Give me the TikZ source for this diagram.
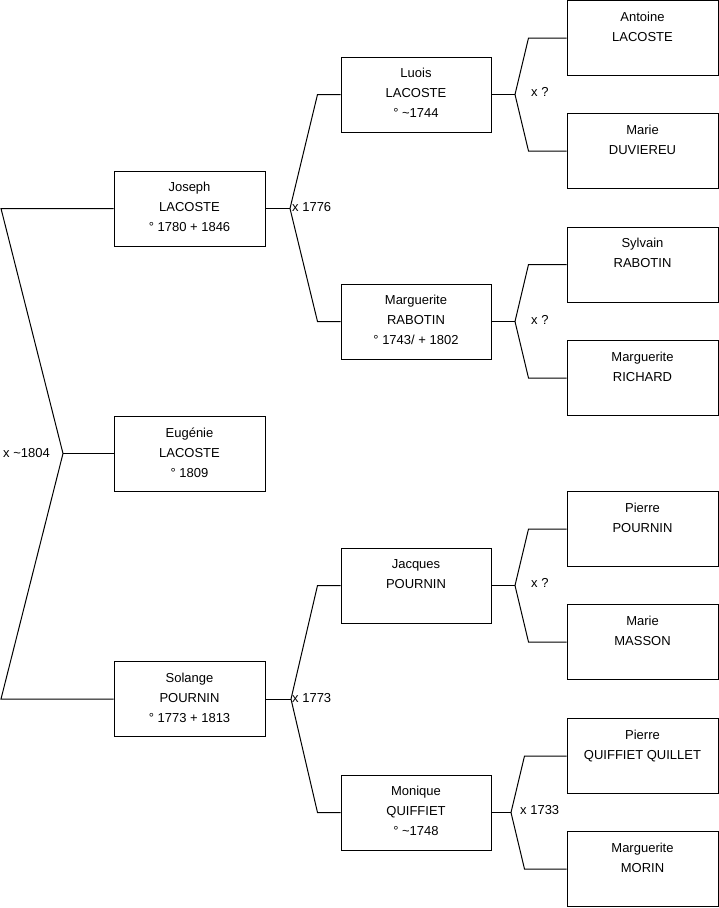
\documentclass[tikz,border=0pt]{standalone}
\usepackage{fontspec}
\setmainfont{Liberation Sans}
\newcommand\lastln{\rule[-2.5pt]{0pt}{0pt}}
\tikzset{
  box/.style={draw=black, line width=1pt, minimum width=151pt, minimum height=75pt, inner sep=0pt, align=center,
    font=\fontsize{13}{20}\selectfont},
  lnk/.style={draw=black, line width=1pt},
  lbl/.style={anchor=west, inner sep=0pt, font=\fontsize{13}{16}\selectfont}
}
\begin{document}
\begin{tikzpicture}[x=1pt,y=-1pt]
\useasboundingbox (0,0) rectangle (719,908);
% column 1
\node[box] (joseph)  at (189.5,208.5) {Joseph\\LACOSTE\\° 1780 + 1846\lastln};
\node[box] (eugenie) at (189.5,453.5) {Eugénie\\LACOSTE\\° 1809\lastln};
\node[box] (solange) at (189.5,699)   {Solange\\POURNIN\\° 1773 + 1813\lastln};
% column 2
\node[box, minimum width=150pt] (luois)   at (416,94.5)  {Luois\\LACOSTE\\° \textasciitilde1744\lastln};
\node[box, minimum width=150pt] (margr)   at (416,321.5) {Marguerite\\RABOTIN\\° 1743/ + 1802\lastln};
\node[box, minimum width=150pt] (jacques) at (416,585.5) {Jacques\\POURNIN\\\mbox{}\lastln};
\node[box, minimum width=150pt] (monique) at (416,812.5) {Monique\\QUIFFIET\\° \textasciitilde1748\lastln};
% column 3
\node[box] (antoine) at (642.5,38)    {Antoine\\LACOSTE\\\mbox{}\lastln};
\node[box] (marie)   at (642.5,151)   {Marie\\DUVIEREU\\\mbox{}\lastln};
\node[box] (sylvain) at (642.5,264.5) {Sylvain\\RABOTIN\\\mbox{}\lastln};
\node[box] (richard) at (642.5,378)   {Marguerite\\RICHARD\\\mbox{}\lastln};
\node[box] (pierre)  at (642.5,529)   {Pierre\\POURNIN\\\mbox{}\lastln};
\node[box] (masson)  at (642.5,642)   {Marie\\MASSON\\\mbox{}\lastln};
\node[box] (pierreq) at (642.5,756)   {Pierre\\QUIFFIET QUILLET\\\mbox{}\lastln};
\node[box] (morin)   at (642.5,869)   {Marguerite\\MORIN\\\mbox{}\lastln};
% fork points
\coordinate (f0) at (63,453.5);
\coordinate (r1) at (1,208.5);
\coordinate (r2) at (1,699);
\coordinate (f1) at (290,208.5);
\coordinate (f3) at (291,699);
\coordinate (f21) at (515,94.5);
\coordinate (f22) at (515,321.5);
\coordinate (f23) at (515,585.5);
\coordinate (f24) at (511,812.5);
% connectors
\draw[lnk] (joseph.west) -- (r1) -- (f0) -- (r2) -- (solange.west);
\draw[lnk] (f0) -- (eugenie.west);
\draw[lnk] (joseph.east) -- (f1);
\draw[lnk] (f1) -- ([xshift=-23pt]luois.west) -- (luois.west);
\draw[lnk] (f1) -- ([xshift=-23pt]margr.west) -- (margr.west);
\draw[lnk] (solange.east) -- (f3);
\draw[lnk] (f3) -- ([xshift=-23pt]jacques.west) -- (jacques.west);
\draw[lnk] (f3) -- ([xshift=-23pt]monique.west) -- (monique.west);
\draw[lnk] (luois.east) -- (f21);
\draw[lnk] (f21) -- ([xshift=-38pt]antoine.west) -- (antoine.west);
\draw[lnk] (f21) -- ([xshift=-38pt]marie.west) -- (marie.west);
\draw[lnk] (margr.east) -- (f22);
\draw[lnk] (f22) -- ([xshift=-38pt]sylvain.west) -- (sylvain.west);
\draw[lnk] (f22) -- ([xshift=-38pt]richard.west) -- (richard.west);
\draw[lnk] (jacques.east) -- (f23);
\draw[lnk] (f23) -- ([xshift=-38pt]pierre.west) -- (pierre.west);
\draw[lnk] (f23) -- ([xshift=-38pt]masson.west) -- (masson.west);
\draw[lnk] (monique.east) -- (f24);
\draw[lnk] (f24) -- ([xshift=-42pt]pierreq.west) -- (pierreq.west);
\draw[lnk] (f24) -- ([xshift=-42pt]morin.west) -- (morin.west);
% labels
\node[lbl] (l0) at (3,453) {x \textasciitilde1804};
\node[lbl] (l1) at (292,207) {x 1776};
\node[lbl] (l3) at (292,698) {x 1773};
\node[lbl] (l21) at (531,92) {x ?};
\node[lbl] (l22) at (531,320) {x ?};
\node[lbl] (l23) at (531,583) {x ?};
\node[lbl] (l24) at (520,810) {x 1733};
\end{tikzpicture}
\end{document}
